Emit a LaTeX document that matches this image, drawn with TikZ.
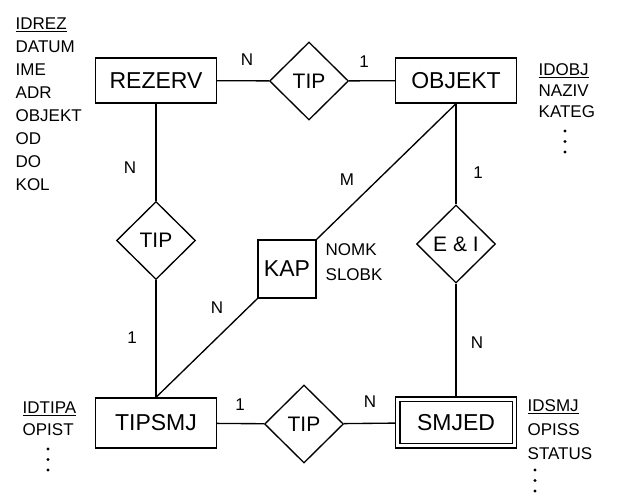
\documentclass[tikz,border=0pt]{standalone}
\usepackage{fontspec}
\setmainfont{Liberation Sans}
\usetikzlibrary{shapes.geometric,positioning}

\begin{document}
\begin{tikzpicture}[x=1pt, y=-1pt, line width=1.35pt,
  entity/.style={draw, minimum width=121pt, minimum height=45pt, inner sep=0pt, font=\fontsize{23}{26}\selectfont},
  relation/.style={draw, diamond, minimum width=79pt, minimum height=78pt, inner sep=0pt, font=\fontsize{21}{24}\selectfont},
  attrs/.style={align=left, anchor=north west, inner sep=0pt, font=\fontsize{17}{23}\selectfont},
  card/.style={font=\fontsize{17}{19}\selectfont}]
  \useasboundingbox (0,0) rectangle (621,497);
  % Entities
  \node[entity] (rez) at (156,80.5) {REZERV};
  \node[entity] (obj) at (456,80.5) {OBJEKT};
  \node[entity, minimum height=50pt] (tsm) at (156,423) {TIPSMJ};
  \node[entity, minimum height=51pt] (smj) at (456,422.5) {SMJED};
  \draw ([shift={(5pt,5pt)}]smj.south west) rectangle ([shift={(-5pt,-5pt)}]smj.north east);
  \node[entity, minimum width=58pt, minimum height=58pt] (kap) at (287,269) {KAP};
  % Relationships
  \node[relation] (tipro) at (309,81) {TIP};
  \node[relation] (tiprt) at (156,240.5) {TIP};
  \node[relation] (ei) at (456,244) {E \& I};
  \node[relation] (tipts) at (304,424) {TIP};
  % Links
  \draw (rez) -- (tipro) -- (obj);
  \draw (rez) -- (tiprt) -- (tsm);
  \draw (obj) -- (ei) -- (smj);
  \draw (tsm) -- (tipts) -- (smj);
  \draw (obj.south) -- (kap.north east);
  \draw (kap.south west) -- (tsm.north);
  % Cardinalities
  \node[card] (c1) at (247,60) {N};
  \node[card] (c2) at (364,62) {1};
  \node[card] (c3) at (130,168) {N};
  \node[card] (c4) at (132,338) {1};
  \node[card] (c5) at (347,180) {M};
  \node[card] (c6) at (217,308) {N};
  \node[card] (c7) at (478,173) {1};
  \node[card] (c8) at (477,343) {N};
  \node[card] (c9) at (240,405) {1};
  \node[card] (c10) at (370,402) {N};
  % Attributes
  \node[attrs] (rezattr) at (15,17) {\underline{IDREZ}\\DATUM\\IME\\ADR\\OBJEKT\\OD\\DO\\KOL};
  \node[attrs, font=\fontsize{17}{21}\selectfont] (objattr) at (538,63) {\underline{IDOBJ}\\NAZIV\\KATEG};
  \node[attrs, font=\fontsize{17}{25}\selectfont] (kapattr) at (325,243) {NOMK\\SLOBK};
  \node[attrs, font=\fontsize{17}{22}\selectfont] (tsmattr) at (22,401) {\underline{IDTIPA}\\OPIST};
  \node[attrs, font=\fontsize{17}{24}\selectfont] (smjattr) at (527,399) {\underline{IDSMJ}\\OPISS\\STATUS};
  \foreach \dy in {0,10.5,21} {
    \fill (565,131+\dy) circle (1.7pt);
    \fill (48,449+\dy) circle (1.7pt);
    \fill (535,470+\dy) circle (1.7pt);
  }
\end{tikzpicture}
\end{document}
